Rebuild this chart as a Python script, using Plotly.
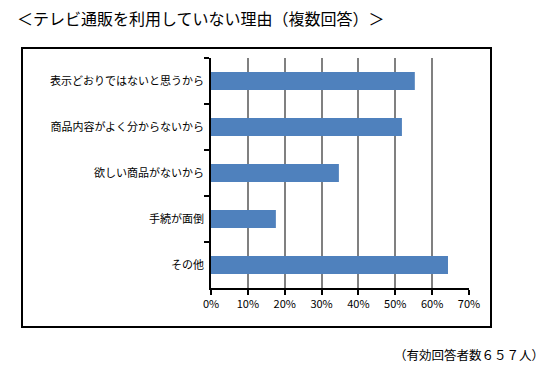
import plotly.graph_objects as go

categories = ["表示どおりではないと思うから", "商品内容がよく分からないから", "欲しい商品がないから", "手続が面倒", "その他"]
values = [55.3, 51.8, 34.7, 17.6, 64.3]
tick_vals = [0, 10, 20, 30, 40, 50, 60, 70]
tick_text = ["0%", "10%", "20%", "30%", "40%", "50%", "60%", "70%"]
title_text = "＜テレビ通販を利用していない理由（複数回答）＞"
note_text = "（有効回答者数６５７人）"

FONT = "Noto Sans CJK JP"
W, H = 550, 366
L, R, T, B = 211, 469, 58, 288
pw, ph = R - L, B - T

def px(x):
    return (x - L) / pw

def py(y):
    return (B - y) / ph

fig = go.Figure(go.Bar(
    x=values, y=categories, orientation="h",
    marker=dict(color="#4F81BD", line=dict(width=0)),
    width=0.39, hoverinfo="x+y",
))

fig.update_layout(
    width=W, height=H,
    margin=dict(l=L, r=W - R, t=T, b=H - B, autoexpand=False),
    paper_bgcolor="white", plot_bgcolor="white",
    font=dict(family=FONT, size=11, color="#000000"),
    showlegend=False,
    title=dict(text=title_text, xref="container", yref="container",
               x=17 / W, y=1 - 19 / H, xanchor="left", yanchor="middle",
               font=dict(family=FONT, size=16, color="#000000")),
    xaxis=dict(range=[0, 70], tickvals=tick_vals, ticktext=tick_text,
               showgrid=True, gridcolor="#808080", gridwidth=2,
               showline=True, linecolor="#000000", linewidth=1.5,
               ticks="outside", ticklen=5, tickcolor="#000000", tickwidth=1.5,
               zeroline=False, fixedrange=True, automargin=False,
               tickfont=dict(family=FONT, size=11, color="#000000")),
    yaxis=dict(autorange="reversed", type="category",
               showline=True, linecolor="#000000", linewidth=1.5,
               ticks="outside", ticklen=5, tickcolor="#000000", tickwidth=1.5,
               tickson="boundaries", showgrid=False, fixedrange=True,
               automargin=False, ticklabelstandoff=3,
               tickfont=dict(family=FONT, size=11, color="#000000")),
    shapes=[dict(type="rect", xref="paper", yref="paper",
                 x0=px(22), x1=px(491), y0=py(327), y1=py(48),
                 line=dict(color="#000000", width=2), fillcolor="rgba(0,0,0,0)",
                 layer="below")],
    annotations=[dict(text=note_text, xref="paper", yref="paper",
                      x=px(546), y=py(355), xanchor="right", yanchor="middle",
                      showarrow=False,
                      font=dict(family=FONT, size=12.5, color="#000000"))],
)

fig.write_html("out.html", config={"displayModeBar": False},
               post_script="document.body.style.margin='0';document.body.style.overflow='hidden';")
